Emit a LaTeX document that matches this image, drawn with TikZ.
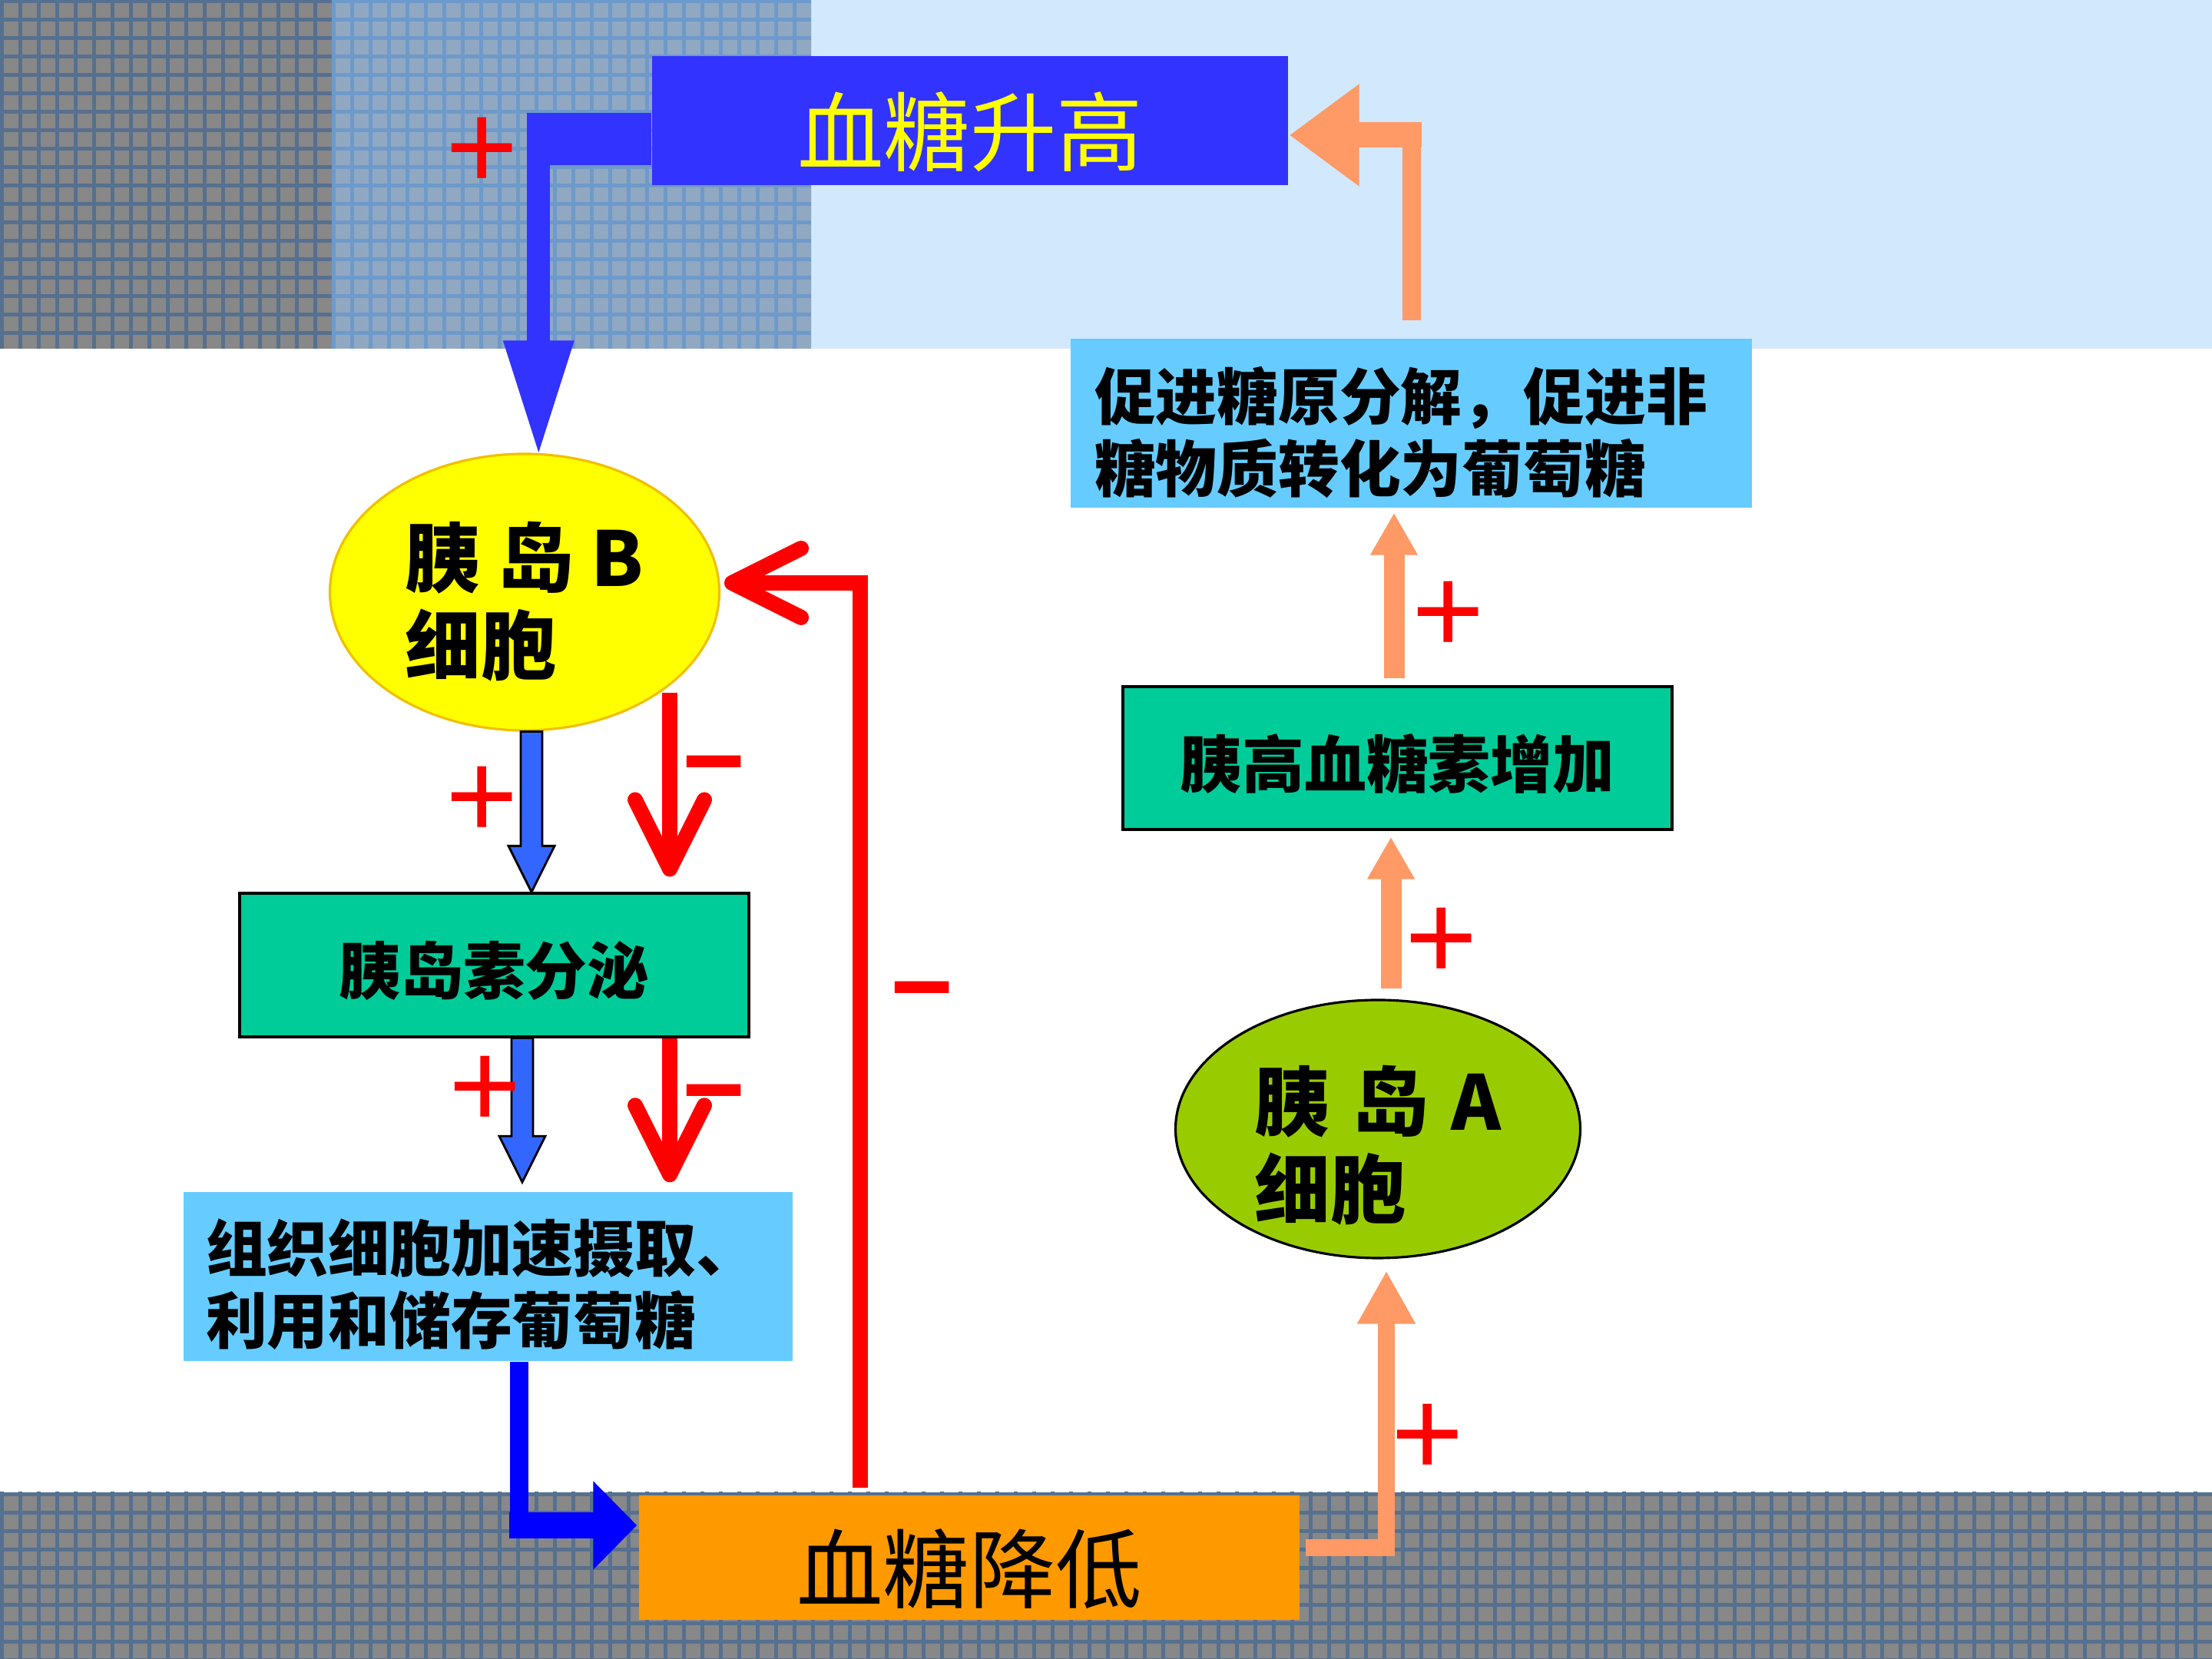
\documentclass[tikz,border=0pt]{standalone}
\usepackage{fontspec}
\setmainfont{Noto Sans CJK SC}
\newfontfamily\signfont{Liberation Sans}
\usetikzlibrary{shapes,arrows.meta,positioning,calc}
\definecolor{risecolor}{RGB}{51,51,255}
\definecolor{betacolor}{RGB}{255,255,0}
\definecolor{betaline}{RGB}{240,192,0}
\definecolor{hormonecolor}{RGB}{0,204,153}
\definecolor{effectcolor}{RGB}{102,204,255}
\definecolor{fallcolor}{RGB}{255,153,0}
\definecolor{alphacolor}{RGB}{153,204,0}
\definecolor{glucacolor}{RGB}{255,153,102}
\definecolor{insulinblue}{RGB}{51,102,255}
\definecolor{uptakeblue}{RGB}{0,0,255}
\definecolor{gridcell}{RGB}{136,136,136}
\definecolor{gridline}{RGB}{86,112,143}
\definecolor{softcell}{RGB}{144,168,194}
\definecolor{softline}{RGB}{110,154,203}
\definecolor{skycolor}{RGB}{210,232,252}

% block arrow pointing down, with black outline
\newcommand\blockdown[2]{%
  \filldraw[fill=insulinblue, draw=black, line width=0.8pt]
    let \p1=(#1), \p2=(#2) in
    (\x1-0.14cm,\y1) -- (\x1-0.14cm,\y2+0.6cm) -- (\x1-0.3cm,\y2+0.6cm) -- (\x1,\y2)
    -- (\x1+0.3cm,\y2+0.6cm) -- (\x1+0.14cm,\y2+0.6cm) -- (\x1+0.14cm,\y1) -- cycle;}

\begin{document}
\begin{tikzpicture}[
        level/.style={rectangle, inner sep=0pt, font=\fontsize{32}{36}\selectfont},
        cellnode/.style={ellipse, inner sep=0pt, line width=0.9pt, align=left, font=\bfseries\fontsize{28}{32.4}\selectfont},
        hormone/.style={rectangle, draw=black, line width=0.9pt, fill=hormonecolor, inner sep=0pt, font=\bfseries\fontsize{23}{26}\selectfont},
        effect/.style={rectangle, fill=effectcolor, inner ysep=0pt, align=left, minimum height=2.2cm, font=\bfseries\fontsize{22.7}{26.7}\selectfont},
        negarrow/.style={draw=red, line width=0.2cm, -{Straight Barb[length=0.9cm,width=0.9cm,round]}},
        gluarrow/.style={draw=glucacolor, line width=0.27cm, -{Triangle[length=0.55cm,width=0.58cm]}},
        sign/.style={text=red, inner sep=0pt, yshift=-0.11cm, font=\signfont\fontsize{46}{46}\selectfont},
        minus/.style={text=red, inner sep=0pt, yshift=-0.23cm, font=\signfont\bfseries\fontsize{40}{40}\selectfont}
    ]
        \fill[white] (0,0) rectangle (28.8,21.6);
        \useasboundingbox (0,0) rectangle (28.8,21.6);

        % Background bands
        \fill[skycolor] (10.56,17.06) rectangle (28.8,21.6);
        \begin{scope}
            \clip (0,17.06) rectangle (4.32,21.6);
            \fill[gridcell] (0,17.06) rectangle (4.32,21.6);
            \draw[gridline, line width=0.05cm, shift={(0.02,-0.02)}, step=0.24] (-0.24,16.8) grid (4.8,21.84);
        \end{scope}
        \begin{scope}
            \clip (4.32,17.06) rectangle (10.56,21.6);
            \fill[softcell] (4.32,17.06) rectangle (10.56,21.6);
            \draw[softline, line width=0.05cm, shift={(0.02,-0.02)}, step=0.24] (4.08,16.8) grid (10.8,21.84);
        \end{scope}
        \begin{scope}
            \clip (0,0) rectangle (28.8,2.17);
            \fill[gridcell] (0,0) rectangle (28.8,2.17);
            \draw[gridline, line width=0.05cm, shift={(0.02,-0.02)}, step=0.24] (-0.24,-0.24) grid (29.04,2.4);
        \end{scope}

        % Blood sugar levels
        \node[level, fill=risecolor, text=betacolor, minimum width=8.28cm, minimum height=1.68cm] (rise) at (12.63,20.03) {\rule{0pt}{1.25cm}血糖升高};
        \node[level, fill=fallcolor, minimum width=8.60cm, minimum height=1.62cm] (fall) at (12.62,1.32) {\rule{0pt}{1.25cm}血糖降低};

        % Islet cells
        \node[cellnode, fill=betacolor, draw=betaline, minimum width=5.07cm, minimum height=3.60cm] (betaCell) at (6.83,13.89) {\rule{0pt}{1.09cm}胰 岛 B\\细胞};
        \node[cellnode, fill=alphacolor, draw=black, inner sep=-0.12cm, minimum width=5.27cm, minimum height=3.36cm] (alphaCell) at (17.94,6.90) {\rule{0pt}{1.27cm}胰\hspace{0.3em}岛\hspace{0.3em}A\\细胞};

        % Hormones
        \node[hormone, minimum width=6.63cm, minimum height=1.87cm] (insulin) at (6.435,9.035) {\rule{0pt}{0.85cm}胰岛素分泌};
        \node[hormone, minimum width=7.15cm, minimum height=1.86cm] (glucagon) at (18.195,11.73) {\rule{0pt}{0.85cm}胰高血糖素增加};

        % Effects
        \node[effect, inner xsep=0.29cm, text width=7.35cm] (uptake) at (6.355,4.98) {\rule{0pt}{0.89cm}组织细胞加速摄取、\\利用和储存葡萄糖};
        \node[effect, inner xsep=0.31cm, text width=8.25cm] (promote) at (18.375,16.09) {\rule{0pt}{0.93cm}促进糖原分解，促进非\\糖物质转化为葡萄糖};

        % High blood sugar to B cells
        \coordinate (riseBend) at ($(rise.west)+(-1.47,0.1)$);
        \fill[risecolor] ($(rise.west)+(0,0.1)$) rectangle ($(rise.west)+(-1.62,-0.58)$);
        \draw[risecolor, line width=0.3cm, -{Triangle[length=1.54cm,width=0.83cm]}] (riseBend) -- ($(riseBend |- betaCell.north)+(0,-0.08)$);
        \node[sign] (plusRise) at (6.28,19.71) {+};

        % B cells to insulin
        \coordinate (bOut) at ($(betaCell.south)+(0.09,0)$);
        \blockdown{bOut}{bOut |- insulin.north}
        \node[sign] (plusB) at (6.28,11.26) {+};
        \coordinate (bNeg) at ($(betaCell.south)+(1.89,0.51)$);
        \draw[negarrow] (bNeg) -- ($(bNeg |- insulin.north)+(0,0.2)$);
        \node[minus] (minusB) at (9.30,11.72) {−};

        % Insulin to tissue cells
        \coordinate (iOut) at ($(insulin.south)+(0.365,0)$);
        \coordinate (iTip) at ($(iOut |- uptake.north)+(0,0.12)$);
        \blockdown{iOut}{iTip}
        \node[sign] (plusI) at (6.32,7.49) {+};
        \coordinate (iNeg) at ($(insulin.south)+(2.285,0)$);
        \draw[negarrow] (iNeg) -- ($(iNeg |- uptake.north)+(0,0.12)$);
        \node[minus] (minusI) at (9.30,7.44) {−};

        % Tissue cells to low blood sugar
        \coordinate (uDrop) at ($(uptake.south)+(0.405,0)$);
        \draw[uptakeblue, line width=0.24cm] (uDrop) -- ++(0,-2.29);
        \draw[uptakeblue, line width=0.34cm, -{Triangle[length=0.57cm,width=1.12cm]}] ($(fall.west)+(-1.68,0.42)$) -- ($(fall.west)+(-0.02,0.42)$);

        % Low blood sugar feedback to B cells
        \draw[negarrow] ($(fall.north)+(-1.42,0.09)$) |- ($(betaCell.east)+(0.05,0.12)$);
        \node[minus] (minusF) at (12.01,8.78) {−};

        % Low blood sugar to A cells
        \draw[glucacolor, line width=0.22cm, -{Triangle[length=0.69cm,width=0.71cm]}] ($(fall.east)+(0.07,0.13)$) -| ($(alphaCell.south)+(0.11,-0.15)$);
        \node[sign] (plusF) at (18.59,2.96) {+};

        % A cells to glucagon
        \coordinate (aUp) at ($(alphaCell.north)+(0.17,0.13)$);
        \draw[gluarrow] (aUp) -- ($(aUp |- glucagon.south)+(0,-0.08)$);
        \node[sign] (plusA) at (18.77,9.42) {+};

        % Glucagon to effects
        \coordinate (gUp) at ($(glucagon.north)+(-0.045,0.09)$);
        \draw[gluarrow] (gUp) -- ($(gUp |- promote.south)+(0,-0.06)$);
        \node[sign] (plusG) at (18.86,13.67) {+};

        % Effects to high blood sugar
        \coordinate (pUp) at ($(promote.north)+(0,0.23)$);
        \draw[glucacolor, line width=0.24cm] (pUp) -- ++(0,2.58);
        \draw[glucacolor, line width=0.33cm, -{Triangle[length=0.91cm,width=1.27cm]}] ($(rise.east)+(1.73,-0.19)$) -- ($(rise.east)+(0.01,-0.19)$);

    \end{tikzpicture}
\end{document}
